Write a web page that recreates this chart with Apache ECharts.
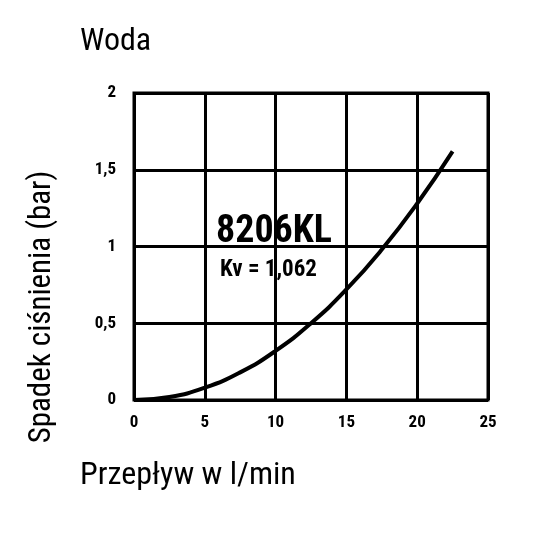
<!DOCTYPE html>
<html><head><meta charset="utf-8">
<script src="https://cdn.jsdelivr.net/npm/echarts@6/dist/echarts.min.js"></script>
<style>html,body{margin:0;padding:0;background:#fff}#c{width:540px;height:540px}</style>
</head><body><div id="c"></div>
<script>
const flow = [0, 2.5, 5, 7.5, 10, 12.5, 15, 17.5, 20, 22.5];
const drop = [0, 0.02, 0.08, 0.18, 0.32, 0.50, 0.72, 0.98, 1.28, 1.62];
const xTicks = [0, 5, 10, 15, 20, 25];
const yTicks = [0, 0.5, 1, 1.5, 2];
const F = '"Liberation Sans Narrow","Roboto Condensed","Liberation Sans",sans-serif';
const chart = echarts.init(document.getElementById('c'));
chart.setOption({
  animation: false,
  grid: {left: 134, right: 52, top: 93, bottom: 140, show: true, borderColor: '#000', borderWidth: 3},
  xAxis: {type: 'value', min: 0, max: 25, interval: 5,
    axisLine: {show: false}, axisTick: {show: false},
    splitLine: {lineStyle: {color: '#000', width: 3}},
    axisLabel: {color: '#000', fontWeight: 'bold', fontSize: 17, fontFamily: F, margin: 14,
      formatter: v => xTicks.includes(v) ? String(v) : ''}},
  yAxis: {type: 'value', min: 0, max: 2, interval: 0.5,
    axisLine: {show: false}, axisTick: {show: false},
    splitLine: {lineStyle: {color: '#000', width: 3}},
    axisLabel: {color: '#000', fontWeight: 'bold', fontSize: 17, fontFamily: F, margin: 18,
      formatter: v => yTicks.includes(v) ? String(v).replace('.', ',') : ''}},
  series: [{type: 'line', smooth: true, showSymbol: false,
    data: flow.map((q, i) => [q, drop[i]]),
    lineStyle: {color: '#000', width: 4}}],
  graphic: [
    {type: 'text', left: 80, top: 26, style: {text: 'Woda', font: '32px ' + F, fill: '#000'}},
    {type: 'text', left: 80, top: 460, style: {text: 'Przepływ w l/min', font: '32px ' + F, fill: '#000'}},
    {type: 'text', x: 42, y: 307, rotation: Math.PI / 2,
      style: {text: 'Spadek ciśnienia (bar)', font: '31px ' + F, fill: '#000', align: 'center', verticalAlign: 'middle'}},
    {type: 'rect', shape: {x: 212, y: 213, width: 134, height: 78}, style: {fill: '#fff'}},
    {type: 'text', x: 216, y: 213, style: {text: '8206KL', font: 'bold 38px ' + F, fill: '#000'}},
    {type: 'text', x: 220, y: 259, style: {text: 'Kv = 1,062', font: 'bold 23px ' + F, fill: '#000'}}
  ]
});
</script></body></html>
